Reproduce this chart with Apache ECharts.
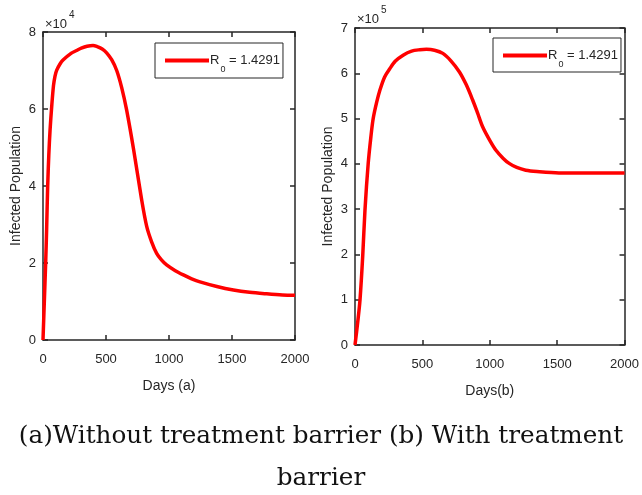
<!DOCTYPE html>
<html>
<head>
<meta charset="utf-8">
<script src="https://cdn.jsdelivr.net/npm/echarts@6/dist/echarts.min.js"></script>
<style>html,body{margin:0;padding:0;background:#fff;}#c{width:642px;height:495px;}</style>
</head>
<body>
<div id="c"></div>
<script>
// Panel (a): without treatment barrier
var daysA = [0, 10, 21, 29, 37, 46, 56, 69, 83, 95, 109, 135, 159, 225, 267, 304, 350, 397, 430, 470, 505, 545, 585, 625, 664, 720, 783, 823, 862, 902, 940, 981, 1050, 1114, 1180, 1246, 1380, 1511, 1640, 1775, 1900, 2000];
var infectedA = [0, 9500, 19900, 29000, 39800, 48000, 54500, 60600, 66000, 68500, 70100, 71700, 72700, 74500, 75200, 75800, 76300, 76500, 76200, 75600, 74600, 72800, 70000, 65500, 59700, 49300, 36400, 29500, 25500, 22500, 20800, 19500, 18000, 16900, 15900, 15100, 13900, 13000, 12400, 12000, 11700, 11600];
// Panel (b): with treatment barrier
var daysB = [0, 20, 37, 57, 74, 98, 118, 135, 160, 185, 220, 258, 300, 357, 420, 480, 530, 590, 652, 710, 775, 825, 873, 910, 947, 1000, 1046, 1100, 1144, 1200, 1267, 1350, 1513, 1700, 2000];
var infectedB = [0, 50000, 99000, 195000, 298000, 401000, 460000, 500000, 535000, 563000, 592000, 610000, 627000, 640000, 649000, 652000, 653000, 651000, 644000, 628000, 603000, 575000, 541000, 512000, 482000, 452000, 430000, 412000, 401000, 392000, 386000, 383000, 380000, 380000, 380000];
var seriesName = 'R0 = 1.4291';
var xTicksInterval = 500;
var captionLine1 = '(a)Without treatment barrier (b) With treatment';
var captionLine2 = 'barrier';

function pairs(xs, ys) { return xs.map(function (x, i) { return [x, ys[i]]; }); }

var ink = '#262626';
var sans = '"Liberation Sans", Arial, sans-serif';
var serif = '"DejaVu Serif", "Liberation Serif", serif';
var axisLine = { show: true, onZero: false, lineStyle: { color: ink, width: 1.5 } };
var tick = { show: true, inside: true, length: 5, lineStyle: { color: ink, width: 1.5 } };
var lbl = { color: ink, fontFamily: sans, fontSize: 13 };

function xMain(gi, name) {
  return { type: 'value', gridIndex: gi, min: 0, max: 2000, interval: xTicksInterval, position: 'bottom',
    axisLine: axisLine, axisTick: tick, splitLine: { show: false },
    axisLabel: Object.assign({ margin: 13, formatter: function (v) { return String(v); } }, lbl),
    name: name, nameLocation: 'middle', nameGap: 39,
    nameTextStyle: { color: ink, fontFamily: sans, fontSize: 14 } };
}
function xTop(gi) {
  return { type: 'value', gridIndex: gi, min: 0, max: 2000, interval: xTicksInterval, position: 'top',
    axisLine: axisLine, axisTick: tick, axisLabel: { show: false }, splitLine: { show: false } };
}
function yMain(gi, max, interval, scale) {
  return { type: 'value', gridIndex: gi, min: 0, max: max, interval: interval, position: 'left',
    axisLine: axisLine, axisTick: tick, splitLine: { show: false },
    axisLabel: Object.assign({ margin: 7, formatter: function (v) { return String(Math.round(v / scale)); } }, lbl),
    name: 'Infected Population', nameLocation: 'middle', nameGap: 20, nameRotate: 90,
    nameTextStyle: { color: ink, fontFamily: sans, fontSize: 14 } };
}
function yRight(gi, max, interval) {
  return { type: 'value', gridIndex: gi, min: 0, max: max, interval: interval, position: 'right',
    axisLine: axisLine, axisTick: tick, axisLabel: { show: false }, splitLine: { show: false } };
}

var legendRich = {
  a: { fontFamily: sans, fontSize: 13, color: ink },
  b: { fontFamily: sans, fontSize: 9, color: ink, verticalAlign: 'bottom', padding: [18, 0, 0, 1] }
};
function legend(left, top, padTop, padBottom) {
  return { left: left, top: top, orient: 'horizontal', data: [seriesName],
    icon: 'rect', itemWidth: 44, itemHeight: 4, itemGap: 0,
    backgroundColor: '#fff', borderColor: ink, borderWidth: 1, padding: [padTop, 3, padBottom, 10],
    textStyle: { rich: legendRich, padding: [0, 0, 0, -4] },
    formatter: function () { return '{a|R}{b|0}{a| = 1.4291}'; } };
}
function txt(x, y, s, size) {
  return { type: 'text', x: x, y: y, style: { text: s, fontFamily: sans, fontSize: size, fill: ink, textVerticalAlign: 'top' } };
}

var chart = echarts.init(document.getElementById('c'), null, { renderer: 'canvas' });
chart.setOption({
  backgroundColor: '#fff',
  animation: false,
  grid: [
    { left: 43, right: 347, top: 32, bottom: 155 },
    { left: 355, right: 16, top: 28, bottom: 150 }
  ],
  xAxis: [xMain(0, 'Days (a)'), xTop(0), xMain(1, 'Days(b)'), xTop(1)],
  yAxis: [yMain(0, 80000, 20000, 10000), yRight(0, 80000, 20000), yMain(1, 700000, 100000, 100000), yRight(1, 700000, 100000)],
  legend: [legend(155, 43, 11, 4), legend(493, 38, 11, 3)],
  graphic: [
    txt(45, 18, '×10', 13), txt(69, 10, '4', 10),
    txt(357, 13, '×10', 13), txt(381, 5, '5', 10),
    { type: 'text', x: 321, y: 424, style: { text: captionLine1, fontFamily: serif, fontSize: 24.7, fill: '#111', textAlign: 'center', textVerticalAlign: 'top' } },
    { type: 'text', x: 321, y: 466, style: { text: captionLine2, fontFamily: serif, fontSize: 24.7, fill: '#111', textAlign: 'center', textVerticalAlign: 'top' } }
  ],
  series: [
    { name: seriesName, type: 'line', xAxisIndex: 0, yAxisIndex: 0, data: pairs(daysA, infectedA),
      smooth: 0.3, showSymbol: false, lineStyle: { color: '#ff0000', width: 3.5 }, itemStyle: { color: '#ff0000' } },
    { name: seriesName, type: 'line', xAxisIndex: 2, yAxisIndex: 2, data: pairs(daysB, infectedB),
      smooth: 0.3, showSymbol: false, lineStyle: { color: '#ff0000', width: 3.5 }, itemStyle: { color: '#ff0000' } }
  ]
});
</script>
</body>
</html>
